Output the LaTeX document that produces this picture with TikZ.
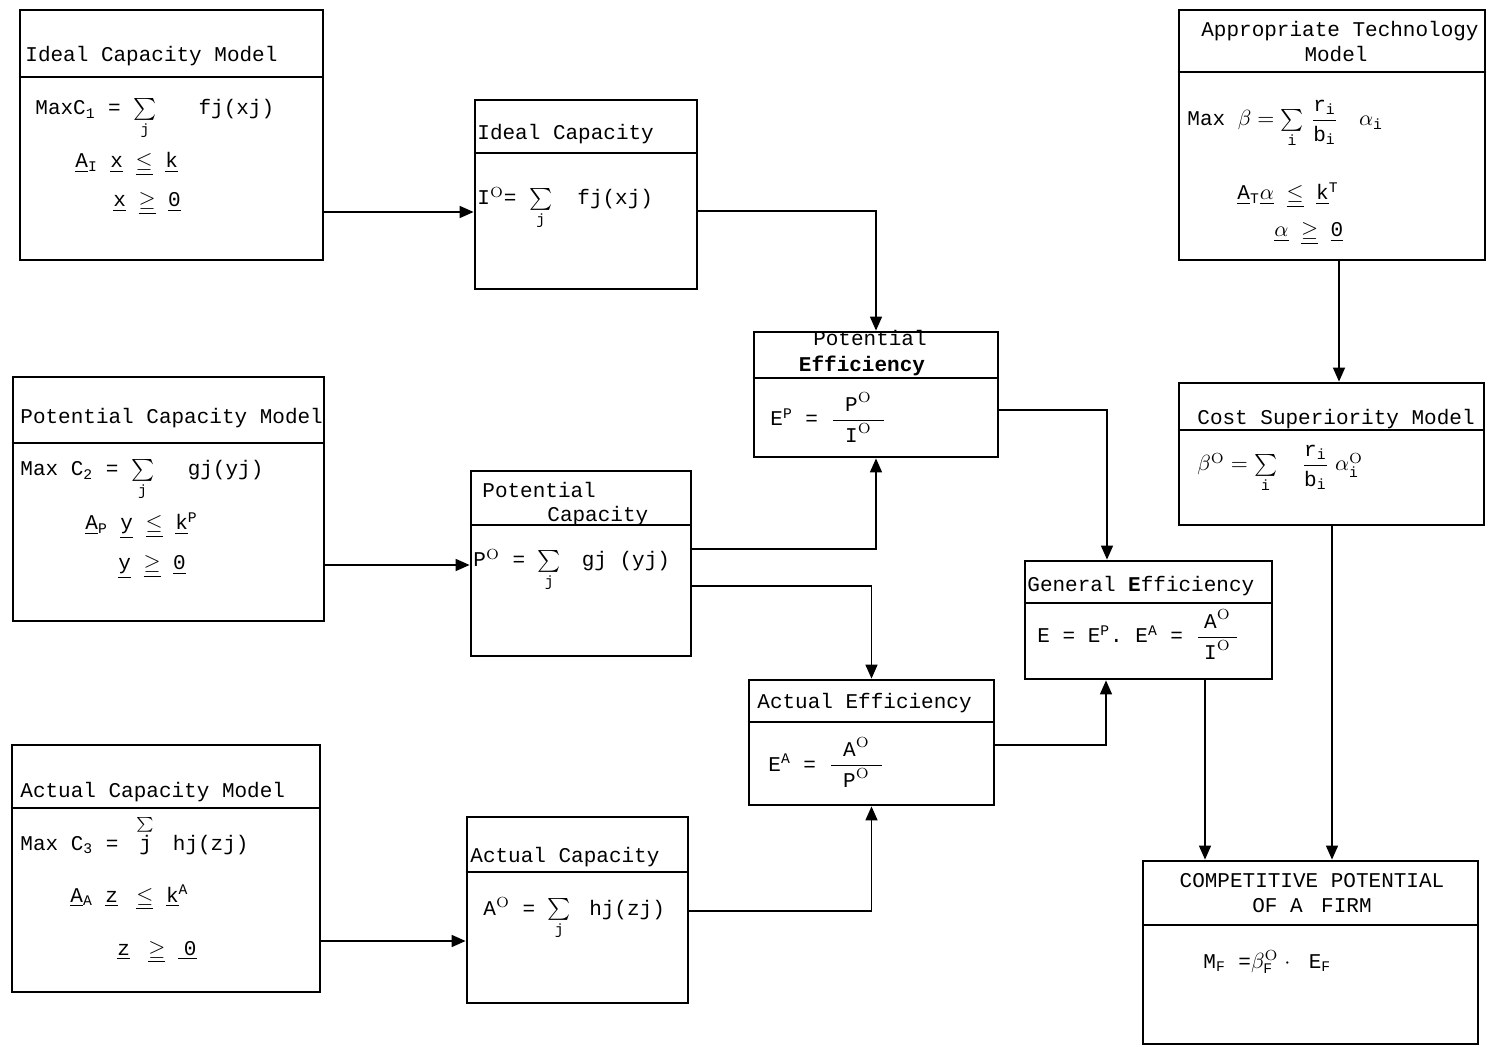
\documentclass[tikz,border=0pt]{standalone}
\usepackage{amsmath}
\usepackage{fontspec}
\setmonofont{Liberation Mono}
\usetikzlibrary{arrows.meta,fit}
\newcommand\tx[1]{\text{#1}}
\newcommand\sO{^{\mathrm{O}}}
\begin{document}
\begin{tikzpicture}[x=0.5pt,y=-0.5pt,
  box/.style={draw, line width=1.4pt, inner sep=0pt},
  divider/.style={line width=1pt},
  lbl/.style={anchor=base west, inner sep=0pt, font=\fontsize{10.5}{12}\selectfont\ttfamily},
  clbl/.style={anchor=base, inner sep=0pt, font=\fontsize{10.5}{12}\selectfont\ttfamily},
  arr/.style={line width=0.8pt, -{Triangle[length=7pt,width=6pt]}},
  lin/.style={line width=0.8pt}]
\useasboundingbox (0,0) rectangle (1494,1047);

% ---------- boxes ----------
\node[box, fit={(20,10) (323,260)}] (b1) {};
\node[box, fit={(475,100) (697,289)}] (b2) {};
\node[box, fit={(1179,10) (1485,260)}] (b3) {};
\node[box, fit={(13,377) (324,621)}] (b4) {};
\node[box, fit={(471,471) (691,656)}] (b5) {};
\node[box, fit={(754,332) (998,457)}] (b6) {};
\node[box, fit={(1179,383) (1484,525)}] (b7) {};
\node[box, fit={(1025,561) (1272,679)}] (b8) {};
\node[box, fit={(749,680) (994,805)}] (b9) {};
\node[box, fit={(12,745) (320,992)}] (b10) {};
\node[box, fit={(467,817) (688,1003)}] (b11) {};
\node[box, fit={(1143,861) (1478,1044)}] (b12) {};

% ---------- dividers ----------
\draw[divider] (b1.west |- 0,77) -- (b1.east |- 0,77);
\draw[divider] (b2.west |- 0,153) -- (b2.east |- 0,153);
\draw[divider] (b3.west |- 0,72) -- (b3.east |- 0,72);
\draw[divider] (b4.west |- 0,443) -- (b4.east |- 0,443);
\draw[divider] (b5.west |- 0,525) -- (b5.east |- 0,525);
\draw[divider] (b6.west |- 0,378) -- (b6.east |- 0,378);
\draw[divider] (b7.west |- 0,430) -- (b7.east |- 0,430);
\draw[divider] (b8.west |- 0,603) -- (b8.east |- 0,603);
\draw[divider] (b9.west |- 0,722) -- (b9.east |- 0,722);
\draw[divider] (b10.west |- 0,808) -- (b10.east |- 0,808);
\draw[divider] (b11.west |- 0,872) -- (b11.east |- 0,872);
\draw[divider] (b12.west |- 0,925) -- (b12.east |- 0,925);

% ---------- Ideal Capacity Model ----------
\node[lbl] (t1) at (25,62) {Ideal Capacity Model};
\node[lbl] (f1a) at (35,115) {MaxC$_{\tx{1}}$ = $\sum\limits_{\tx{j}}$\hspace{2em}fj(xj)};
\node[lbl] (f1b) at (75,168) {\underline{A}$_{\tx{I}}$ \underline{x} $\underline{\le}$ \underline{k}};
\node[lbl] (f1c) at (113,207) {\underline{x} $\underline{\ge}$ \underline{0}};

% ---------- Ideal Capacity ----------
\node[lbl] (t2) at (477,140) {Ideal Capacity};
\node[lbl] (f2) at (477,205) {I$\sO$= $\sum\limits_{\tx{j}}$\hspace{1.2em}fj(xj)};

% ---------- Appropriate Technology Model ----------
\node[clbl] (t3a) at (1340,37) {Appropriate Technology};
\node[clbl] (t3b) at (1336,62) {Model};
\node[lbl] (f3a) at (1187,126) {Max $\beta = \sum\limits_{\tx{i}}\,\dfrac{\tx{r}_{\tx{i}}}{\tx{b}_{\tx{i}}}\quad\alpha_{\tx{i}}$};
\node[lbl] (f3b) at (1237,200) {\underline{A}$_{\tx{T}}$\underline{$\alpha$} $\underline{\le}$ \underline{k}$^{\tx{T}}$};
\node[lbl] (f3c) at (1274,237) {\underline{$\alpha$} $\underline{\ge}$ \underline{0}};

% ---------- Potential Capacity Model ----------
\node[lbl] (t4) at (20,424) {Potential Capacity Model};
\node[lbl] (f4a) at (20,476) {Max C$_{\tx{2}}$ = $\sum\limits_{\tx{j}}$\hspace{1.6em}gj(yj)};
\node[lbl] (f4b) at (85,530) {\underline{A}$_{\tx{P}}$ \underline{y} $\underline{\le}$ \underline{k}$^{\tx{P}}$};
\node[lbl] (f4c) at (118,570) {\underline{y} $\underline{\ge}$ \underline{0}};

% ---------- Potential Capacity ----------
\node[lbl] (t5a) at (482,498) {Potential};
\node[lbl] (t5b) at (547,522) {Capacity};
\node[lbl] (f5) at (473,567) {P$\sO$ = $\sum\limits_{\tx{j}}$\hspace{1em}gj (yj)};

% ---------- Potential Efficiency ----------
\node[clbl] (t6a) at (870,346) {Potential};
\node[clbl, font=\fontsize{10.5}{12}\selectfont\ttfamily\bfseries] (t6b) at (862,372) {Efficiency};
\node[lbl] (f6) at (770,426) {E$^{\tx{P}}$ = $\dfrac{\tx{P}\sO}{\;\;\tx{I}\sO\;\;}$};

% ---------- Cost Superiority Model ----------
\node[lbl] (t7) at (1197,425) {Cost Superiority Model};
\node[lbl] (f7) at (1197,471) {$\beta\sO = \sum\limits_{\tx{i}}\quad\dfrac{\tx{r}_{\tx{i}}}{\tx{b}_{\tx{i}}}\;\alpha\sO_{\tx{i}}$};

% ---------- General Efficiency ----------
\node[lbl] (t8) at (1027,592) {General \textbf{E}fficiency};
\node[lbl] (f8) at (1037,643) {E = E$^{\tx{P}}$. E$^{\tx{A}}$ = $\dfrac{\;\tx{A}\sO\;}{\tx{I}\sO}$};

% ---------- Actual Efficiency ----------
\node[lbl] (t9) at (757,708) {Actual Efficiency};
\node[lbl] (f9) at (768,771) {E$^{\tx{A}}$ = $\dfrac{\;\;\tx{A}\sO\;\;}{\tx{P}\sO}$};

% ---------- Actual Capacity Model ----------
\node[lbl] (t10) at (20,797) {Actual Capacity Model};
\node[lbl] (f10a) at (20,850) {Max C$_{\tx{3}}$ = \;$\overset{\sum}{\tx{j}}$\; hj(zj)};
\node[lbl] (f10b) at (70,902) {\underline{A}$_{\tx{A}}$ \underline{z} \;$\underline{\le}$ \underline{k}$^{\tx{A}}$};
\node[lbl] (f10c) at (117,955) {\underline{z} \;$\underline{\ge}$ \underline{\;0}};

% ---------- Actual Capacity ----------
\node[lbl] (t11) at (470,862) {Actual Capacity};
\node[lbl] (f11) at (483,915) {A$\sO$ = $\sum\limits_{\tx{j}}$\; hj(zj)};

% ---------- Competitive Potential ----------
\node[clbl] (t12a) at (1312,887) {COMPETITIVE POTENTIAL};
\node[clbl] (t12b) at (1312,912) {OF A\; FIRM};
\node[lbl] (f12) at (1203,968) {M$_{\tx{F}}$ =$\beta\sO_{\tx{F}}$\;$\cdot$\; E$_{\tx{F}}$};

% ---------- connectors ----------
\draw[arr] (b1.east |- 0,212) -- (b2.west |- 0,212);
\draw[arr] (b4.east |- 0,565) -- (b5.west |- 0,565);
\draw[arr] (b10.east |- 0,941) -- (b11.west |- 0,941);
\draw[arr] (b2.east |- 0,211) -| (b6.north);
\draw[arr] (b5.east |- 0,549) -| (b6.south);
\draw[arr] (b5.east |- 0,586) -| (b9.north);
\draw[arr] (b11.east |- 0,911) -| (b9.south);
\draw[arr] (b6.east |- 0,410) -| (b8.north -| 1107,0);
\draw[arr] (b9.east |- 0,745) -| (b8.south -| 1106,0);
\draw[arr] (b8.south -| 1205,0) -- (b12.north -| 1205,0);
\draw[arr] (b3.south -| 1339,0) -- (b7.north -| 1339,0);
\draw[arr] (b7.south -| 1332,0) -- (b12.north -| 1332,0);
\end{tikzpicture}
\end{document}
